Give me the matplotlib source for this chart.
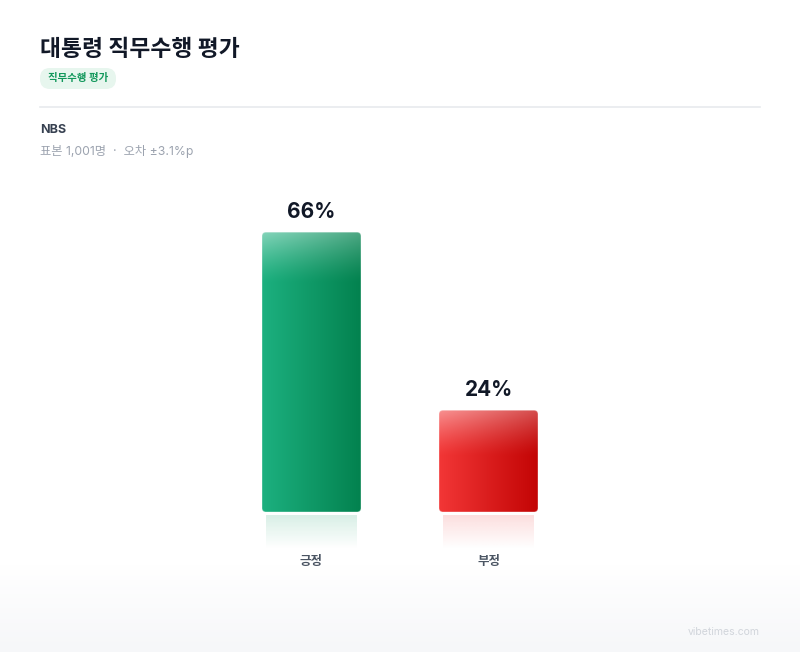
"""Presidential approval bar card (NBS)."""

import matplotlib.pyplot as plt
import numpy as np
from matplotlib.colors import to_rgb
from matplotlib.patches import FancyBboxPatch

plt.rcParams["font.family"] = ["Inter", "Noto Sans CJK KR", "DejaVu Sans"]

TITLE = "대통령 직무수행 평가"
BADGE = "직무수행 평가"
SOURCE = "NBS"
META = "표본 1,001명  ·  오차 ±3.1%p"
WATERMARK = "vibetimes.com"

categories = ["긍정", "부정"]
values = [66, 24]
left_colors = ["#1cb07f", "#f23636"]
right_colors = ["#03824f", "#c30505"]
reflect_colors = ["#0e9a63", "#ee3333"]

W, H = 800, 652
PX_X = 177.0   # pixels per category step
PX_Y = 4.24    # pixels per percent
BASE_Y = 512   # baseline pixel row (from top)
Y_MIN = -14


def gradient_rgba(c_left, c_right, nx=60, ny=200, gloss_frac=None):
    l, r = np.array(to_rgb(c_left)), np.array(to_rgb(c_right))
    t = np.linspace(0, 1, nx)
    row = l[None, :] * (1 - t[:, None]) + r[None, :] * t[:, None]
    img = np.repeat(row[None, :, :], ny, axis=0)
    if gloss_frac is not None:
        # row 0 is top (imshow origin upper)
        s = np.linspace(0, 1, ny)
        a = np.clip(1 - s / gloss_frac, 0, 1) ** 1.3 * 0.45
        a = a[:, None] * (1 - 0.35 * t[None, :])
        img = img * (1 - a[:, :, None]) + a[:, :, None]
    alpha = np.ones((ny, nx, 1))
    return np.concatenate([img, alpha], axis=2)


fig = plt.figure(figsize=(W / 100, H / 100), dpi=100)

# full-figure pixel axes for background, header and footer
bg = fig.add_axes([0, 0, 1, 1])
bg.set_xlim(0, W)
bg.set_ylim(H, 0)
bg.axis("off")

grad = np.linspace(0, 1, 100)
bg_img = np.ones((100, 1, 3))
shade = np.array(to_rgb("#f6f7f9"))
bg_img[:, 0, :] = (1 - grad[:, None]) * 1.0 + grad[:, None] * shade
bg.imshow(bg_img, extent=(0, W, H, 565), aspect="auto", zorder=0)

bg.text(40, 50, TITLE, fontsize=16.4, fontweight="bold", color="#111827",
        va="center", ha="left")
badge = FancyBboxPatch((40, 68), 76, 21, boxstyle="round,pad=0,rounding_size=10",
                       fc="#e7f6ee", ec="none")
bg.add_patch(badge)
bg.text(78, 78.5, BADGE, fontsize=7.5, fontweight="bold", color="#11985b",
        ha="center", va="center")
bg.plot([40, 760], [107, 107], color="#e8eaed", lw=1.2)
bg.text(40, 130, SOURCE, fontsize=9, fontweight="bold", color="#374151",
        ha="left", va="center")
bg.text(40, 151, META, fontsize=8.8, color="#9ca3af", ha="left", va="center")
bg.text(760, 632, WATERMARK, fontsize=7.5, color="#d1d5db", ha="right",
        va="center")

# chart axes placed so bars land at the right pixel positions
ax_left, ax_right = 40, 760
ax_bottom_px = BASE_Y - Y_MIN * PX_Y
ax_top_px = BASE_Y - 100 * PX_Y
ax = fig.add_axes([ax_left / W, (H - ax_bottom_px) / H,
                   (ax_right - ax_left) / W, (ax_bottom_px - ax_top_px) / H])
ax.patch.set_alpha(0)
x0 = 311.5
ax.axis("off")

bar_w = 99 / PX_X
rx = 4 / PX_X
aspect = PX_X / PX_Y
gloss_units = 50 / PX_Y

for i, (cat, val) in enumerate(zip(categories, values)):
    x_l = i - bar_w / 2
    clip = FancyBboxPatch((x_l, 0), bar_w, val,
                          boxstyle=f"round,pad=0,rounding_size={rx}",
                          mutation_aspect=aspect, fc="none", ec="none")
    ax.add_patch(clip)
    img = gradient_rgba(left_colors[i], right_colors[i],
                        gloss_frac=min(gloss_units / val, 0.45))
    im = ax.imshow(img, extent=(x_l, x_l + bar_w, 0, val), aspect="auto",
                   interpolation="bilinear", zorder=2)
    im.set_clip_path(clip)
    edge = FancyBboxPatch((x_l, 0), bar_w, val,
                          boxstyle=f"round,pad=0,rounding_size={rx}",
                          mutation_aspect=aspect, fc="none",
                          ec=(1, 1, 1, 0.25), lw=1.0, zorder=3)
    ax.add_patch(edge)

    # faint reflection under the bar
    r_w = bar_w - 8 / PX_X
    r_top, r_bot = -3 / PX_Y, -37 / PX_Y
    rc = np.array(to_rgb(reflect_colors[i]))
    ref = np.zeros((60, 1, 4))
    ref[:, 0, :3] = rc
    ref[:, 0, 3] = np.linspace(0.16, 0.0, 60)
    ax.imshow(ref, extent=(i - r_w / 2, i + r_w / 2, r_bot, r_top),
              aspect="auto", interpolation="bilinear", zorder=1)

    ax.annotate(f"{val}%", (i, val), xytext=(0, 10), textcoords="offset points",
                ha="center", va="baseline", fontsize=15, fontweight="bold",
                color="#111827")
    ax.text(i, -50 / PX_Y, cat, ha="center", va="center", fontsize=9,
            fontweight="bold", color="#4b5563")

ax.set_xlim((ax_left - x0) / PX_X, (ax_right - x0) / PX_X)
ax.set_ylim(Y_MIN, 100)

fig.savefig("out.png", dpi=100)
plt.close(fig)
